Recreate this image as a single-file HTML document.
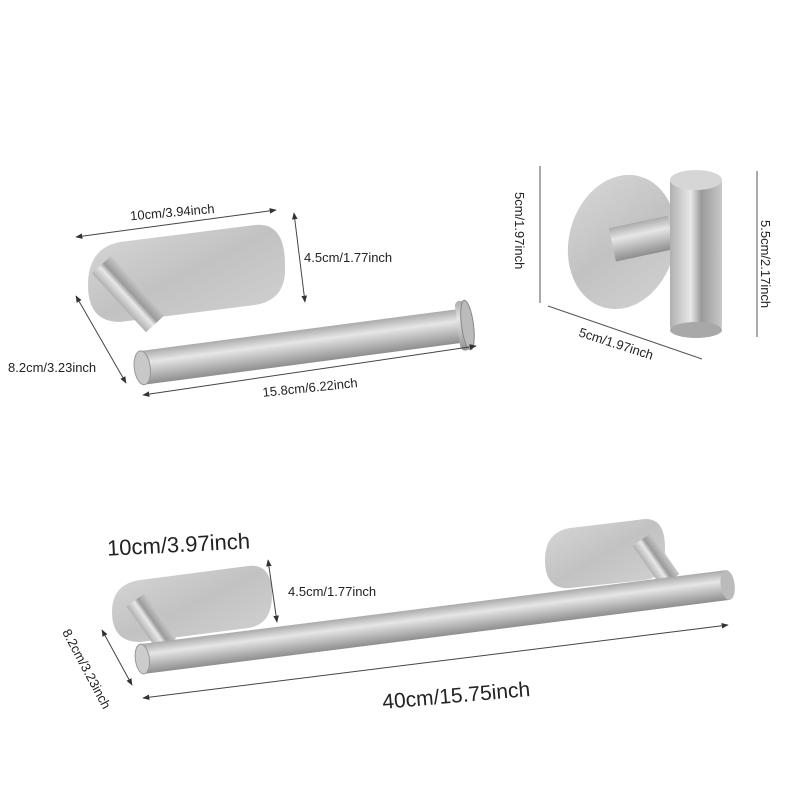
<!DOCTYPE html>
<html><head><meta charset="utf-8"><style>
html,body{margin:0;padding:0;background:#fff}
svg{display:block}
text{font-family:"Liberation Sans",sans-serif;fill:#222}
</style></head><body>
<svg width="800" height="800" viewBox="0 0 800 800" xmlns="http://www.w3.org/2000/svg">
<defs>
<linearGradient id="plate" x1="0" y1="0" x2="1" y2="1">
<stop offset="0" stop-color="#d8d8d8"/><stop offset="0.5" stop-color="#c2c2c2"/><stop offset="1" stop-color="#d2d2d2"/></linearGradient>
<linearGradient id="barH" x1="0" y1="0" x2="0" y2="1">
<stop offset="0" stop-color="#aaa"/><stop offset="0.35" stop-color="#e6e6e6"/><stop offset="0.6" stop-color="#c4c4c4"/><stop offset="1" stop-color="#8e8e8e"/></linearGradient>
<linearGradient id="barV" x1="0" y1="0" x2="1" y2="0">
<stop offset="0" stop-color="#b0b0b0"/><stop offset="0.4" stop-color="#e8e8e8"/><stop offset="0.6" stop-color="#9a9a9a"/><stop offset="1" stop-color="#c8c8c8"/></linearGradient>
<marker id="ar" viewBox="0 0 10 10" refX="9" refY="5" markerWidth="7" markerHeight="7" orient="auto-start-reverse"><path d="M0,1 L10,5 L0,9 z" fill="#333"/></marker>
</defs>

<!-- Paper holder -->
<path d="M120,242 L255,225 Q285,222 285,265 Q287,300 255,305 L120,322 Q88,322 88,285 Q88,248 120,242 Z" fill="url(#plate)"/>
<g transform="rotate(-7.5 300 340)">
<rect x="123" y="232" width="26" height="80" fill="url(#barV)" transform="rotate(-35 136 272)"/>
</g>
<g transform="rotate(-7.5 300 340)">
<rect x="140" y="330" width="320" height="34" fill="url(#barH)"/>
<ellipse cx="140" cy="347" rx="8" ry="17" fill="#c8c8c8" stroke="#999"/>
<rect x="458" y="322" width="10" height="50" rx="5" fill="url(#barH)"/>
<ellipse cx="468" cy="347" rx="6" ry="25" fill="#bbb" stroke="#888"/>
</g>
<line x1="76" y1="237" x2="276" y2="210" stroke="#444" marker-start="url(#ar)" marker-end="url(#ar)"/>
<text x="130" y="216" font-size="13" transform="rotate(-5 180 212)">10cm/3.94inch</text>
<line x1="294" y1="213" x2="305" y2="302" stroke="#444" marker-start="url(#ar)" marker-end="url(#ar)"/>
<text x="304" y="262" font-size="13">4.5cm/1.77inch</text>
<line x1="76" y1="296" x2="126" y2="383" stroke="#444" marker-start="url(#ar)" marker-end="url(#ar)"/>
<text x="8" y="372" font-size="13">8.2cm/3.23inch</text>
<line x1="143" y1="395" x2="476" y2="346" stroke="#444" marker-start="url(#ar)" marker-end="url(#ar)"/>
<text x="262" y="393" font-size="13" transform="rotate(-6 300 385)">15.8cm/6.22inch</text>

<!-- Hook -->
<ellipse cx="622" cy="242" rx="53" ry="68" fill="url(#plate)" transform="rotate(15 622 242)"/>
<rect x="612" y="222" width="60" height="34" fill="url(#barH)" transform="rotate(-12 640 240)"/>
<rect x="670" y="178" width="52" height="152" rx="4" fill="url(#barV)"/>
<ellipse cx="696" cy="180" rx="26" ry="10" fill="#d6d6d6"/>
<ellipse cx="696" cy="330" rx="26" ry="8" fill="#a8a8a8"/>
<line x1="540" y1="166" x2="540" y2="303" stroke="#555"/>
<text font-size="13" transform="translate(515,192) rotate(90)">5cm/1.97inch</text>
<line x1="757" y1="171" x2="757" y2="337" stroke="#555"/>
<text font-size="13" transform="translate(761,220) rotate(90)">5.5cm/2.17inch</text>
<line x1="548" y1="306" x2="702" y2="359" stroke="#555"/>
<text font-size="13" transform="translate(578,336) rotate(18)">5cm/1.97inch</text>

<!-- Towel bar -->
<path d="M140,580 L248,566 Q272,563 272,595 Q272,625 248,628 L140,642 Q112,642 112,612 Q112,584 140,580 Z" fill="url(#plate)"/>
<path d="M570,528 L645,519 Q665,518 665,548 Q665,578 645,580 L570,588 Q545,590 545,560 Q545,532 570,528 Z" fill="url(#plate)"/>
<rect x="140" y="595" width="22" height="55" fill="url(#barV)" transform="rotate(-35 151 622)"/>
<rect x="645" y="535" width="22" height="50" fill="url(#barV)" transform="rotate(-35 656 560)"/>
<g transform="rotate(-7.2 435 622)">
<rect x="140" y="607" width="590" height="30" fill="url(#barH)"/>
<ellipse cx="140" cy="622" rx="7" ry="15" fill="#ccc" stroke="#999"/>
<ellipse cx="730" cy="622" rx="7" ry="15" fill="#bbb"/>
</g>
<text x="107" y="552" font-size="22" transform="rotate(-3 180 545)">10cm/3.97inch</text>
<line x1="268" y1="560" x2="277" y2="622" stroke="#444" marker-start="url(#ar)" marker-end="url(#ar)"/>
<text x="288" y="596" font-size="13">4.5cm/1.77inch</text>
<line x1="102" y1="630" x2="132" y2="685" stroke="#444" marker-start="url(#ar)" marker-end="url(#ar)"/>
<text font-size="13" transform="translate(62,632) rotate(62)">8.2cm/3.23inch</text>
<line x1="143" y1="698" x2="728" y2="625" stroke="#444" marker-start="url(#ar)" marker-end="url(#ar)"/>
<text x="382" y="703" font-size="21" transform="rotate(-5 450 695)">40cm/15.75inch</text>
</svg>
</body></html>
